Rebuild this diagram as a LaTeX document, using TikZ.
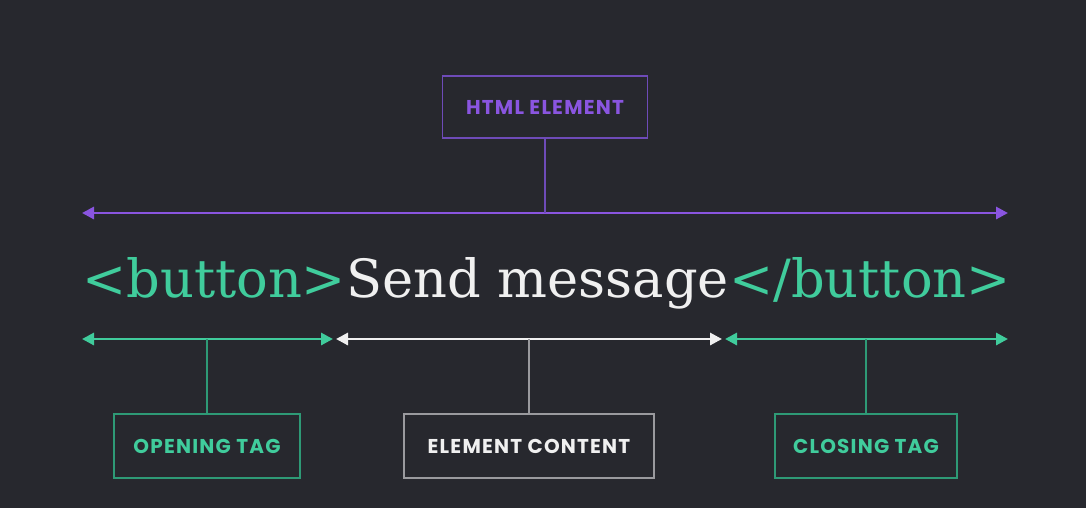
\documentclass[tikz,border=0pt]{standalone}
\usepackage{fontspec}
\usetikzlibrary{arrows.meta,positioning}
\setmainfont{DejaVu Serif}
\newfontfamily\labelfont[LetterSpace=6]{Poppins}
\definecolor{bgdark}{HTML}{27282E}
\definecolor{tagtext}{HTML}{40CC9C}
\definecolor{tagline}{HTML}{2E9A76}
\definecolor{elemtext}{HTML}{8A55E0}
\definecolor{elemline}{HTML}{6E4BB8}
\definecolor{contline}{HTML}{9A9A9E}
\definecolor{conttext}{HTML}{F0F0F0}

\begin{document}
\begin{tikzpicture}[x=0.75pt,y=0.75pt,yscale=-1,xscale=1,
    tagbox/.style={draw, line width=1.4pt, inner sep=0pt, minimum height=48pt,
        font=\labelfont\bfseries\fontsize{15}{18}\selectfont},
    span/.style={line width=2.2pt, {Triangle[length=9pt,width=9pt]}-{Triangle[length=9pt,width=9pt]}},
    stem/.style={line width=1.4pt}
  ]
        %background
        \fill [bgdark] (0,0) rectangle (1086,508);
        \useasboundingbox (0,0) rectangle (1086,508);

        % Boxes
        \node [tagbox, draw=elemline, text=elemtext, minimum width=153.75pt, minimum height=46.5pt] (htmlbox) at (545,107) {HTML ELEMENT};
        \node [tagbox, draw=tagline, text=tagtext, minimum width=139.5pt] (openbox) at (207,446) {OPENING TAG};
        \node [tagbox, draw=contline, text=conttext, minimum width=187.5pt] (contbox) at (529,446) {ELEMENT CONTENT};
        \node [tagbox, draw=tagline, text=tagtext, minimum width=136.5pt] (closebox) at (866,446) {CLOSING TAG};

        % Code line
        \node [anchor=base west, inner sep=0pt, text=conttext, font=\fontsize{39.5}{44}\selectfont] (code) at (82,297)
            {\textcolor{tagtext}{<button>}Send message\textcolor{tagtext}{</button>}};

        % Span ends
        \coordinate (elemL) at (82,213);
        \coordinate (elemR) at (1008,213);
        \coordinate (openL) at (82,339);
        \coordinate (openR) at (333,339);
        \coordinate (contL) at (336,339);
        \coordinate (contR) at (722,339);
        \coordinate (closeL) at (725,339);
        \coordinate (closeR) at (1008,339);

        % Spans
        \draw [span, elemtext] (elemL) -- (elemR);
        \draw [span, tagtext] (openL) -- (openR);
        \draw [span, conttext] (contL) -- (contR);
        \draw [span, tagtext] (closeL) -- (closeR);

        % Stems
        \draw [stem, elemline] (htmlbox.south) -- (htmlbox.south |- elemL);
        \draw [stem, tagline] (openbox.north) -- (openbox.north |- openL);
        \draw [stem, contline] (contbox.north) -- (contbox.north |- contL);
        \draw [stem, tagline] (closebox.north) -- (closebox.north |- closeL);

\end{tikzpicture}
\end{document}
